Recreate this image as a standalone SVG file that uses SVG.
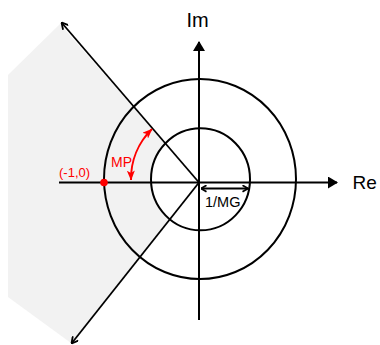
<svg xmlns="http://www.w3.org/2000/svg" width="380" height="345" viewBox="0 0 380 345">
<style>
.ax{stroke:#000;stroke-width:2;fill:none}
.circ{stroke:#000;stroke-width:2}
.diag{stroke:#000;stroke-width:1.8;fill:none}
.lbl{font-family:"Liberation Sans",Arial,sans-serif;fill:#000}
.red{font-family:"Liberation Sans",Arial,sans-serif;fill:#ff0000}
</style>
<defs>
<marker id="tri" viewBox="0 0 10 12" refX="9" refY="6" markerWidth="10" markerHeight="12" markerUnits="userSpaceOnUse" orient="auto">
<path d="M0,0 L10,6 L0,12 z" fill="#000"/>
</marker>
<marker id="vee" viewBox="0 0 8 8" refX="7.5" refY="4" markerWidth="8" markerHeight="8" markerUnits="userSpaceOnUse" orient="auto">
<path d="M1,0.5 L7.5,4 L1,7.5" fill="none" stroke="#000" stroke-width="1.8"/>
</marker>
<marker id="vees" viewBox="0 0 7 8" refX="6.5" refY="4" markerWidth="7" markerHeight="8" markerUnits="userSpaceOnUse" orient="auto-start-reverse">
<path d="M1,0.8 L6.5,4 L1,7.2" fill="none" stroke="#000" stroke-width="1.8"/>
</marker>
<marker id="redarr" viewBox="0 0 10 8" refX="9.5" refY="4" markerWidth="10" markerHeight="8" markerUnits="userSpaceOnUse" orient="auto-start-reverse">
<path d="M0,0 L10,4 L0,8 L2.5,4 z" fill="#ff0000"/>
</marker>
</defs>
<g id="region">
<polygon points="8,75 60,24 199,182.5 71,343 8,297" fill="#f2f2f2"/>
</g>
<g id="outer-circle">
<ellipse cx="200" cy="179" rx="96" ry="100" class="circ" fill="none"/>
</g>
<g id="inner-circle">
<ellipse cx="200.5" cy="179.3" rx="49.5" ry="51" class="circ" fill="#fff"/>
</g>
<g id="connectors">
<line x1="59" y1="182.5" x2="337" y2="182.5" class="ax" marker-end="url(#tri)"/>
<line x1="199" y1="320" x2="199" y2="42" class="ax" marker-end="url(#tri)"/>
<line x1="199" y1="182.5" x2="61.5" y2="22.5" class="diag" marker-end="url(#vee)"/>
<line x1="199" y1="182.5" x2="71.5" y2="343.5" class="diag" marker-end="url(#vee)"/>
<line x1="201" y1="188.5" x2="248" y2="188.5" stroke="#000" stroke-width="1.8" marker-start="url(#vees)" marker-end="url(#vees)"/>
<path d="M131,180 A70,70 0 0 1 152,129" fill="none" stroke="#ff0000" stroke-width="2" marker-start="url(#redarr)" marker-end="url(#redarr)"/>
</g>
<g id="point">
<circle cx="104" cy="182.5" r="3.8" fill="#ff0000"/>
<text x="59" y="176.5" class="red" font-size="13">(-1,0)</text>
</g>
<g id="mp-label">
<text x="111" y="167" class="red" font-size="14">MP</text>
</g>
<g id="mg-label">
<text x="205" y="206.5" class="lbl" font-size="14.5">1/MG</text>
</g>
<g id="im-label">
<text x="186.5" y="27" class="lbl" font-size="20">Im</text>
</g>
<g id="re-label">
<text x="352.5" y="188.5" class="lbl" font-size="19">Re</text>
</g>
</svg>
